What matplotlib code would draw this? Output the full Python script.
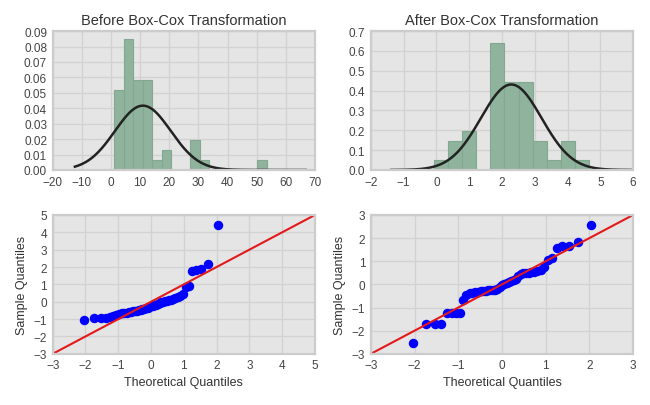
import statistics

import matplotlib
matplotlib.use("Agg")
import matplotlib.pyplot as plt
import numpy as np

before_values = [
    1.07, 1.8, 1.9, 2.0, 2.6, 3.1, 3.6, 4.1,
    4.5, 4.8, 5.0, 5.2, 5.5, 5.7, 5.9, 6.1, 6.4, 6.7, 6.9, 7.2, 7.5,
    7.8, 8.1, 8.4, 8.7, 9.0, 9.4, 9.8, 10.2, 10.6,
    11.0, 11.3, 11.6, 11.9, 12.2, 12.6, 13.0, 13.4, 13.9,
    15.2,
    19.0, 19.8,
    28.0, 28.6, 29.2,
    31.8,
    53.39,
]

after_values = [
    -0.08,
    0.68, 0.69, 0.70,
    1.12, 1.12, 1.13, 1.13,
    1.66, 1.84, 1.92, 1.94, 1.96, 1.98, 2.00, 2.02, 2.03, 2.04, 2.05, 2.06, 2.07,
    2.10, 2.18, 2.24, 2.28, 2.32, 2.36, 2.40, 2.44, 2.48,
    2.60, 2.70, 2.72, 2.74, 2.76, 2.78, 2.80, 2.84, 2.88,
    2.99, 3.28, 3.34,
    3.75,
    3.82, 3.84, 3.98,
    4.661,
]

before_bins = 16
after_bins = 11

titles = ["Before Box-Cox Transformation", "After Box-Cox Transformation"]
before_xticks = list(range(-20, 71, 10))
before_yticks = [0.00, 0.01, 0.02, 0.03, 0.04, 0.05, 0.06, 0.07, 0.08, 0.09]
after_xticks = list(range(-2, 7))
after_yticks = [0.0, 0.1, 0.2, 0.3, 0.4, 0.5, 0.6, 0.7]
qq_left_ticks = list(range(-3, 6))
qq_right_ticks = list(range(-3, 4))

BAR_COLOR = "#8fb39c"
BAR_EDGE = "#82a88f"
BG = "#e5e5e5"
GRID = "#d2d2d2"
TEXT = "#444444"

plt.rcParams["font.family"] = ["Liberation Sans", "DejaVu Sans"]


def style_axes(ax):
    ax.set_facecolor(BG)
    ax.grid(True, color=GRID, linewidth=1.0)
    ax.set_axisbelow(True)
    for sp in ax.spines.values():
        sp.set_color("#cccccc")
        sp.set_linewidth(1.6)
    ax.tick_params(length=0, labelsize=8.5, labelcolor=TEXT, pad=4)


def hist_with_fit(ax, values, bins):
    a = np.asarray(values, dtype=float)
    ax.hist(a, bins=bins, density=True, color=BAR_COLOR, edgecolor=BAR_EDGE,
            linewidth=0.8)
    mu, sd = a.mean(), a.std()
    bw = len(a) ** (-0.2) * a.std(ddof=1)
    xs = np.linspace(a.min() - 3 * bw, a.max() + 3 * bw, 200)
    pdf = np.exp(-0.5 * ((xs - mu) / sd) ** 2) / (sd * np.sqrt(2 * np.pi))
    ax.plot(xs, pdf, color="#222222", linewidth=1.8)


def qq(ax, values, lim):
    a = np.sort(np.asarray(values, dtype=float))
    n = len(a)
    z = (a - a.mean()) / a.std()
    nd = statistics.NormalDist()
    theo = np.array([nd.inv_cdf(i / (n + 1)) for i in range(1, n + 1)])
    ax.plot(theo, z, "o", color="#0000ff", markeredgecolor="#0000ff",
            markersize=5.8)
    ax.plot(lim, lim, color="#e31a1c", linewidth=1.5)
    ax.set_xlim(lim)
    ax.set_ylim(lim)
    ax.set_xlabel("Theoretical Quantiles", fontsize=9, color="#333333", labelpad=3)
    ax.set_ylabel("Sample Quantiles", fontsize=9, color="#333333", labelpad=4)


fig, axes = plt.subplots(2, 2, figsize=(6.5, 4.06), dpi=100)
fig.subplots_adjust(left=0.081, right=0.974, top=0.921, bottom=0.126,
                    wspace=0.213, hspace=0.324)

ax = axes[0, 0]
style_axes(ax)
hist_with_fit(ax, before_values, before_bins)
ax.set_xlim(-20, 70)
ax.set_ylim(0, 0.09)
ax.set_xticks(before_xticks)
ax.set_yticks(before_yticks)
ax.set_yticklabels([f"{t:.2f}" for t in before_yticks])
ax.set_title(titles[0], fontsize=10.5, color="#333333", pad=5)

ax = axes[0, 1]
style_axes(ax)
hist_with_fit(ax, after_values, after_bins)
ax.set_xlim(-2, 6)
ax.set_ylim(0, 0.7)
ax.set_xticks(after_xticks)
ax.set_yticks(after_yticks)
ax.set_yticklabels([f"{t:.1f}" for t in after_yticks])
ax.set_title(titles[1], fontsize=10.5, color="#333333", pad=5)

ax = axes[1, 0]
style_axes(ax)
qq(ax, before_values, [-3, 5])
ax.set_xticks(qq_left_ticks)
ax.set_yticks(qq_left_ticks)

ax = axes[1, 1]
style_axes(ax)
qq(ax, after_values, [-3, 3])
ax.set_xticks(qq_right_ticks)
ax.set_yticks(qq_right_ticks)

fig.savefig("out.png", dpi=100, facecolor="white")
